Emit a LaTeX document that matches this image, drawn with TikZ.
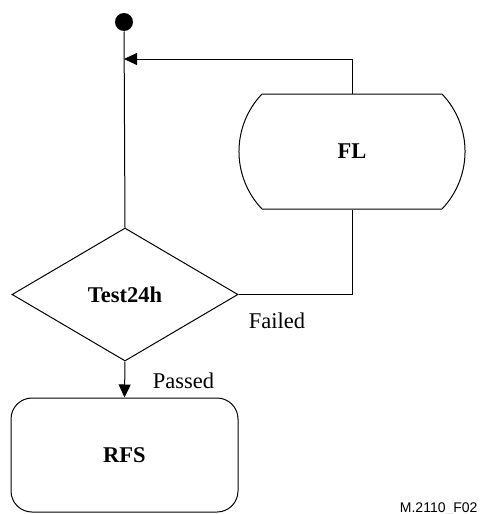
\documentclass[tikz,border=0pt]{standalone}
\usepackage{fontspec}
\setmainfont{Liberation Serif}
\newfontfamily\arialf{Liberation Sans}
\usetikzlibrary{shapes.geometric,arrows.meta}
\begin{document}
\begin{tikzpicture}[x=1pt,y=-1pt,line width=1pt,
  every node/.style={font=\fontsize{22.5}{27}\selectfont},
  arr/.style={-{Triangle[length=13pt,width=12pt]}},
  lbl/.style={anchor=base,inner sep=0pt},
  boldtxt/.style={font=\fontsize{22.5}{27}\selectfont\bfseries}]
\useasboundingbox (0,0) rectangle (481,514);
\node[circle,fill,inner sep=0pt,minimum size=18pt] (start) at (124,22) {};
\node[diamond,draw,aspect=1.7,inner sep=0pt,minimum width=226pt,minimum height=133pt,boldtxt] (test) at (125,294.5) {Test24h};
\node[draw,rounded corners=21pt,minimum width=227pt,minimum height=114pt,boldtxt] (rfs) at (124.5,455) {RFS};
\node[minimum width=227pt,minimum height=115pt,inner sep=0pt,boldtxt] (fl) at (352,151.5) {FL};
\draw[shift={(fl.center)}] (-90,-57.5) -- (90,-57.5)
  .. controls (120.7,-25.3) and (120.7,25.3) .. (90,57.5)
  -- (-90,57.5)
  .. controls (-120.7,25.3) and (-120.7,-25.3) .. (-90,-57.5) -- cycle;
\coordinate (join) at (124,59);
\draw (start) -- (test.north);
\draw[arr] (fl.north) |- (join);
\draw (fl.south) |- (test.east);
\draw[arr] (test.south) -- (rfs.north);
\node[lbl] (failed) at (277,328) {Failed};
\node[lbl] (passed) at (183.5,388) {Passed};
\node[anchor=base east,inner sep=0pt,font=\arialf\fontsize{14}{16}\selectfont] (code) at (478,512) {M.2110\_F02};
\end{tikzpicture}
\end{document}
